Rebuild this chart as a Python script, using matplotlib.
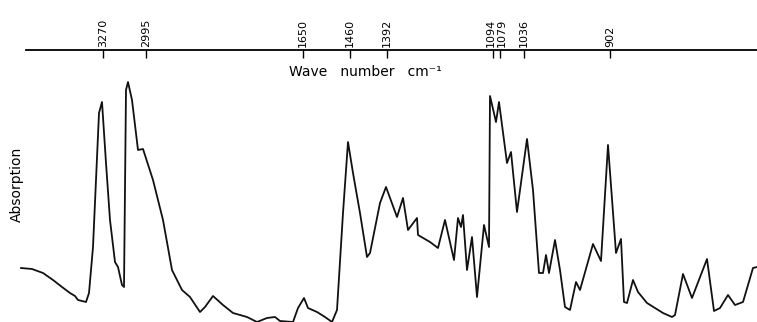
import numpy as np
import matplotlib
matplotlib.use("Agg")
from matplotlib import pyplot as plt
from matplotlib.transforms import ScaledTranslation

# trace position along the chart paper and absorption
position = [21, 32, 43, 53, 62, 70, 75, 78, 86, 89, 93, 99, 102, 106, 110, 115, 118, 122, 124,
            126, 128, 132, 138, 143, 153, 163, 172, 182, 190, 200, 205, 213, 223, 233, 247,
            257, 267, 275, 280, 293, 298, 304, 308, 317, 325, 332, 337, 343, 348, 353, 360,
            367, 370, 380, 386, 397, 403, 408, 417, 418, 430, 438, 445, 454, 458, 461, 463,
            467, 472, 477, 484, 489, 490, 496, 499, 507, 511, 517, 527, 533, 539, 543, 546,
            549, 555, 560, 565, 570, 576, 580, 593, 601, 608, 616, 621, 624, 627, 633, 638,
            647, 655, 663, 672, 675, 683, 692, 697, 707, 714, 720, 728, 735, 743, 753, 757]
absorption = [54, 53, 49, 42, 35, 29, 26, 22, 20, 29, 75, 209, 220, 159, 102, 60, 55, 37, 35,
              232, 240, 222, 172, 173, 142, 102, 52, 32, 25, 10, 15, 26, 17, 9, 5,
              0, 4, 5, 1, 0, 14, 24, 14, 10, 5, 0, 12, 109, 180, 149, 109,
              65, 69, 119, 135, 105, 124, 92, 104, 87, 80, 74, 102, 62, 104, 95, 107,
              52, 85, 25, 97, 75, 226, 200, 220, 159, 170, 110, 183, 132, 49, 49, 67,
              49, 82, 52, 15, 12, 40, 32, 78, 61, 177, 69, 83, 20, 19, 42, 30,
              19, 14, 9, 5, 7, 48, 24, 37, 63, 11, 14, 27, 17, 20, 54, 55]

tick_pos = [103, 146, 303, 350, 387, 493, 500, 524, 610]
tick_labels = ["3270", "2995", "1650", "1460", "1392", "1094", "1079", "1036", "902"]

fig = plt.figure(figsize=(7.57, 3.22), dpi=100)
ax = fig.add_axes([0, 0, 1, 272 / 322])
ax.plot(position, absorption, color="#111111", lw=1.3)
ax.set_xlim(0, 757)
ax.set_ylim(0, 272)

for s in ["left", "right", "bottom"]:
    ax.spines[s].set_visible(False)
ax.spines["top"].set_bounds(26, 757)
ax.spines["top"].set_linewidth(1.3)

ax.set_yticks([])
ax.xaxis.tick_top()
ax.set_xticks(tick_pos)
ax.set_xticklabels(tick_labels, rotation=90, fontsize=8)
ax.tick_params(axis="x", direction="in", length=6, width=1, pad=2)

# the two close labels sit side by side on the paper, nudge them apart
labs = ax.get_xticklabels()
for lab, dx in [(labs[5], -2), (labs[6], 2)]:
    lab.set_transform(lab.get_transform() + ScaledTranslation(dx / 100, 0, fig.dpi_scale_trans))

fig.text(365 / 757, 1 - 72 / 322, "Wave   number   cm\u207b\u00b9", ha="center", va="center",
         fontsize=10)
fig.text(17 / 757, 1 - 184 / 322, "Absorption", rotation=90, ha="center", va="center",
         fontsize=10)

fig.savefig("out.png", dpi=100)
